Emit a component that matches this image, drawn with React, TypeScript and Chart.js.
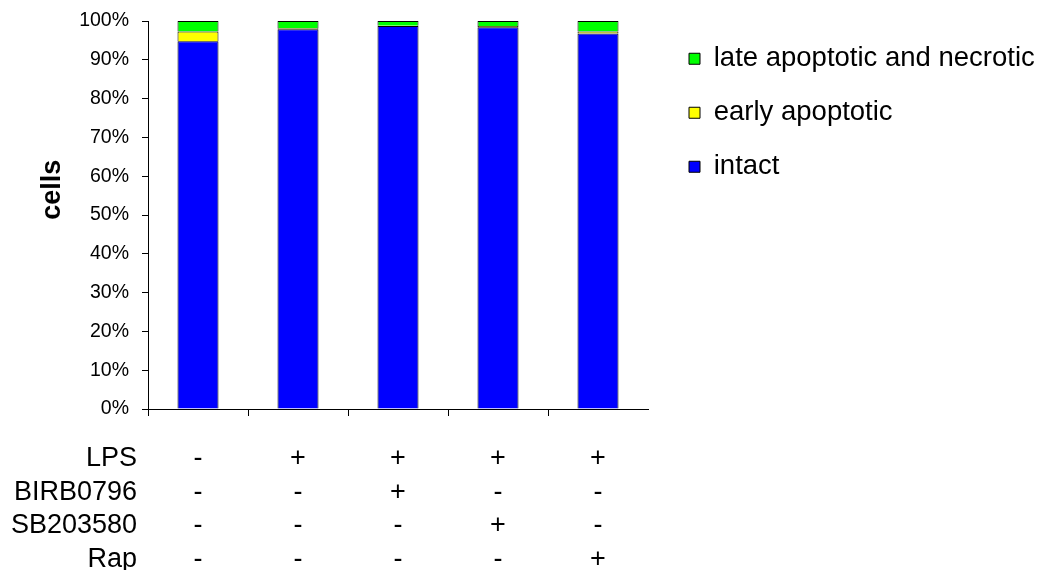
import React, { useEffect, useRef } from "react";
import { Chart, registerables } from "chart.js";

Chart.register(...registerables);

const categories: string[][] = [
  ["-", "-", "-", "-"],
  ["+", "-", "-", "-"],
  ["+", "+", "-", "-"],
  ["+", "-", "+", "-"],
  ["+", "-", "-", "+"],
];
const rowLabels = ["LPS", "BIRB0796", "SB203580", "Rap"];
const intact = [94.8, 97.9, 98.7, 98.4, 96.8];
const earlyApoptotic = [2.5, 0.2, 0.1, 0.3, 0.5];
const lateApoptotic = [2.7, 1.9, 1.2, 1.3, 2.7];
const yTicks = [0, 10, 20, 30, 40, 50, 60, 70, 80, 90, 100];

const FONT = "'Liberation Sans', Arial, sans-serif";
const ROW_FONT = 27;
const ROW_LH = 1.24;
const X_TICK_LEN = 7;
const X_PAD = 26;
const LEGEND_FONT = 27.5;
const LEGEND_PAD = 26.5;

const sidePlugin = {
  id: "sideLabels",
  afterLayout(chart: any) {
    const lg = chart.legend;
    const ca = chart.chartArea;
    if (lg) {
      lg.left = ca.right + 14.5;
      lg.right = chart.width;
      lg.top = ca.top - 2.5;
    }
  },
  afterDraw(chart: any) {
    const { ctx, chartArea } = chart;
    const xs = chart.scales.x;
    ctx.save();
    ctx.fillStyle = "#000";
    ctx.font = `${ROW_FONT}px ${FONT}`;
    ctx.textAlign = "right";
    ctx.textBaseline = "middle";
    const lh = ROW_FONT * ROW_LH;
    rowLabels.forEach((t, i) => {
      const y = xs.top + X_TICK_LEN + X_PAD + lh / 2 + i * lh;
      ctx.fillText(t, chartArea.left - 11, y);
    });
    ctx.translate(chartArea.left - 95, chartArea.top + chartArea.height * 0.435);
    ctx.rotate(-Math.PI / 2);
    ctx.textAlign = "center";
    ctx.font = `bold 27px ${FONT}`;
    ctx.fillText("cells", 0, 0);
    ctx.restore();
  },
};

export default function App() {
  const ref = useRef<HTMLCanvasElement>(null);
  useEffect(() => {
    if (!ref.current) return;
    const chart = new Chart(ref.current, {
      type: "bar",
      data: {
        labels: categories,
        datasets: [
          { label: "intact", data: intact, backgroundColor: "#0000FF", borderColor: "#000", borderWidth: 1 },
          { label: "early apoptotic", data: earlyApoptotic, backgroundColor: "#FFFF00", borderColor: "#000", borderWidth: 1 },
          { label: "late apoptotic and necrotic", data: lateApoptotic, backgroundColor: "#00FF00", borderColor: "#000", borderWidth: 1 },
        ],
      },
      options: {
        animation: false,
        responsive: false,
        devicePixelRatio: 1,
        datasets: { bar: { categoryPercentage: 1, barPercentage: 0.41 } },
        layout: { padding: { left: 0, top: 21, right: 99, bottom: 0 } },
        plugins: {
          legend: {
            position: "right",
            align: "start",
            reverse: true,
            maxWidth: 300,
            labels: {
              font: { family: FONT, size: LEGEND_FONT },
              color: "#000",
              boxWidth: 11,
              boxHeight: 11,
              padding: LEGEND_PAD,
            },
          },
          tooltip: { enabled: false },
          title: { display: false },
        },
        scales: {
          x: {
            stacked: true,
            afterFit: (scale: any) => {
              scale.height = 161;
            },
            grid: {
              drawOnChartArea: false,
              tickLength: X_TICK_LEN,
              offset: true,
              color: (c: any) => (c.type === "tick" ? "#000" : "rgba(0,0,0,0)"),
            },
            border: { color: "#000", width: 1 },
            ticks: {
              color: "#000",
              font: { family: FONT, size: ROW_FONT, lineHeight: ROW_LH },
              padding: X_PAD,
              maxRotation: 0,
              autoSkip: false,
            },
          },
          y: {
            stacked: true,
            min: 0,
            max: 100,
            afterFit: (scale: any) => {
              scale.width = 148;
              scale.paddingTop = 0;
              scale.paddingBottom = 0;
            },
            afterBuildTicks: (axis: any) => {
              axis.ticks = yTicks.map((v) => ({ value: v }));
            },
            grid: { drawOnChartArea: false, tickLength: 6, color: "#000" },
            border: { color: "#000", width: 1 },
            ticks: {
              color: "#000",
              font: { family: FONT, size: 19.5 },
              padding: 13,
              callback: (v: any) => `${v}%`,
            },
          },
        },
      },
      plugins: [sidePlugin],
    });
    return () => chart.destroy();
  }, []);
  return (
    <div style={{ position: "absolute", left: 0, top: 0, width: 1047, height: 570, background: "#fff" }}>
      <canvas ref={ref} width={1047} height={570} style={{ width: 1047, height: 570, display: "block" }} />
    </div>
  );
}
